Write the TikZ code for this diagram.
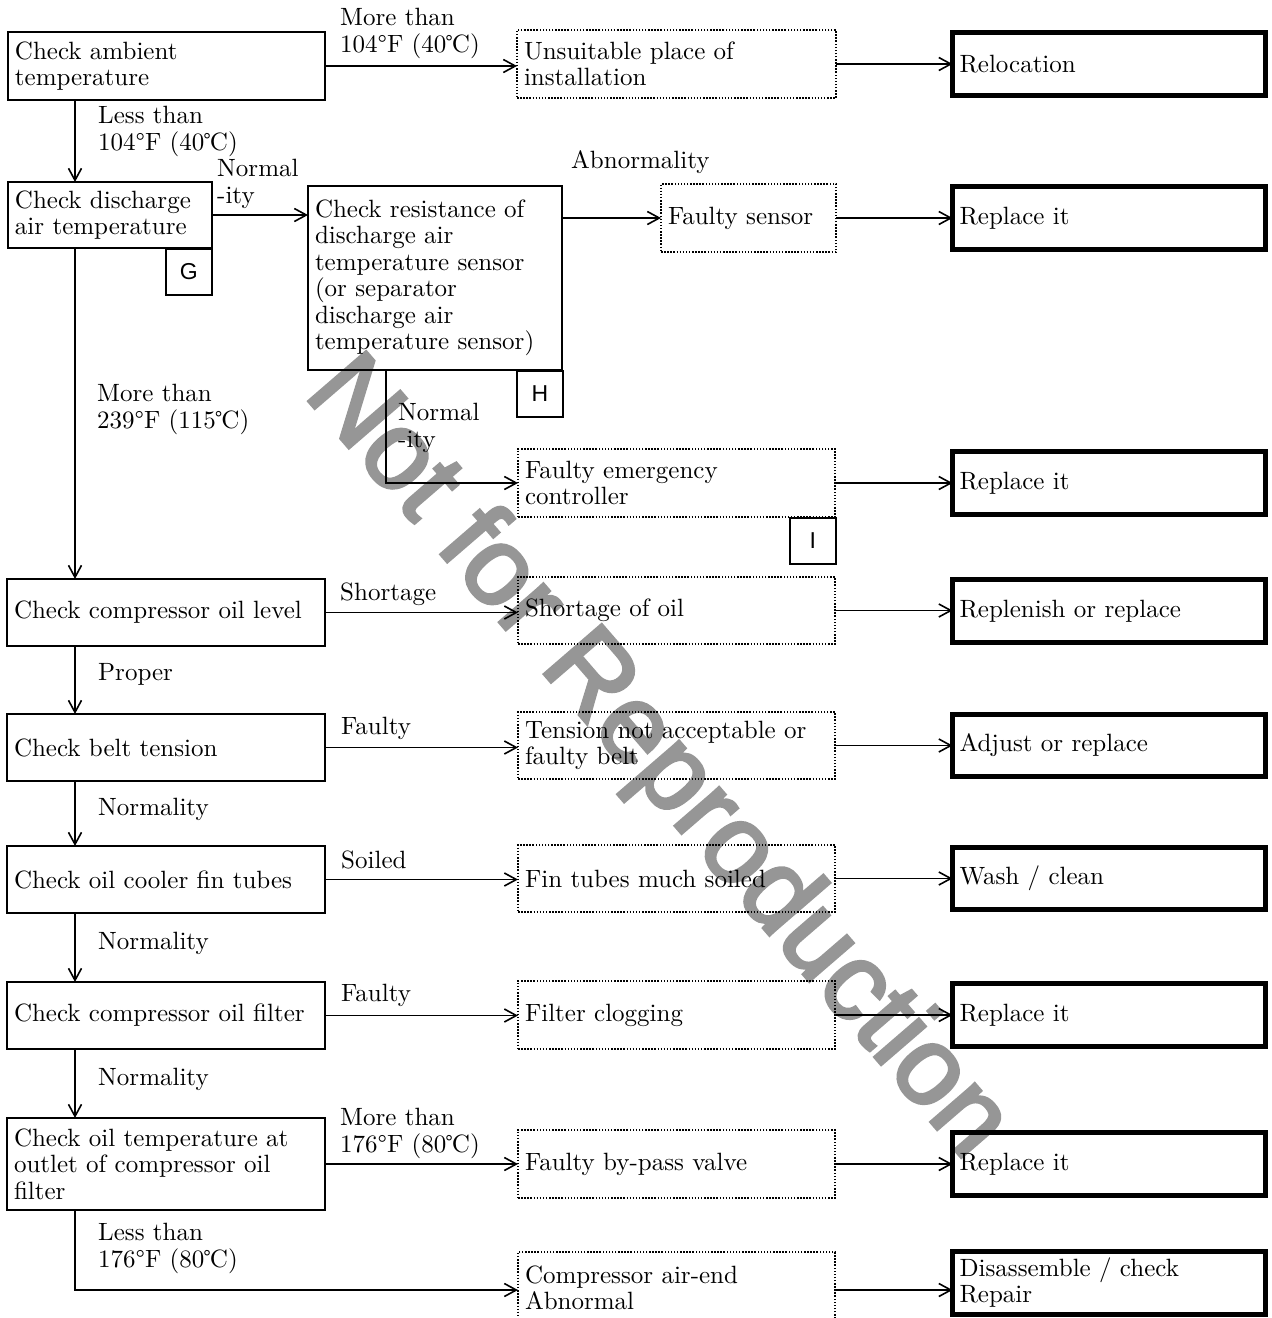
\documentclass[tikz,border=0pt]{standalone}
\usepackage{fontspec}
\setmainfont{lmroman10-regular}[Extension=.otf]
\newfontfamily\sansf{Liberation Sans}
\newfontfamily\wmf{Liberation Sans}[FakeBold=3]
\usetikzlibrary{arrows.meta,calc}
\newcommand\fsz{\fontsize{25}{26.5}\selectfont}
\newcommand\dC{℃}
\definecolor{wmgray}{RGB}{150,150,150}
\newcommand\mybox[7]{%
  \pgfmathsetmacro\bcx{(#3+#5)/2}%
  \pgfmathsetmacro\bcy{(#4+#6)/2}%
  \pgfmathsetmacro\bw{#5-#3}%
  \pgfmathsetmacro\bh{#6-#4}%
  \pgfmathsetmacro\btw{#5-#3-14}%
  \node[#1, minimum width=\bw pt, minimum height=\bh pt, text width=\btw pt] (#2) at (\bcx,\bcy) {#7};}
\begin{document}
\begin{tikzpicture}[x=1pt,y=-1pt,
  base/.style={draw, inner xsep=7pt, inner ysep=1pt, align=left, font=\fsz, anchor=center, outer sep=0pt},
  chk/.style={base, line width=1.6pt},
  dot/.style={base, line width=1.6pt, dash pattern=on 1.5pt off 1.6pt},
  act/.style={base, line width=5pt},
  tag/.style={draw, line width=1.6pt, minimum width=46pt, minimum height=46pt, inner sep=0pt, font=\sansf\fontsize{23}{23}\selectfont, anchor=north west},
  lbl/.style={anchor=north west, inner sep=0pt, align=left, font=\fsz, execute at begin node=\vphantom{(}},
  arr/.style={line width=1.6pt, -{Straight Barb[length=12pt,width=13pt]}},
  wm/.style={text=wmgray, inner sep=0pt, font=\wmf\fontsize{110}{110}\selectfont}
]
\useasboundingbox (0,0) rectangle (1272,1318);
% watermark
\node[wm, rotate=-49.2] (wmark) at (656,760) {Not for Reproduction};

% left column
\mybox{chk}{A1}{8}{32}{325}{100}{Check ambient\\temperature}
\mybox{chk}{A2}{8}{182}{212}{248}{Check discharge\\air temperature}
\node[tag] (G) at (165,248) {G};
\mybox{chk}{A3}{7}{579}{325}{646}{Check compressor oil level}
\mybox{chk}{A4}{7}{714}{325}{781}{Check belt tension}
\mybox{chk}{A5}{7}{846}{325}{913}{Check oil cooler fin tubes}
\mybox{chk}{A6}{7}{982}{325}{1049}{Check compressor oil filter}
\mybox{chk}{A7}{7}{1118}{325}{1210}{Check oil temperature at\\outlet of compressor oil\\filter}

% middle check box
\mybox{chk}{B}{308}{186}{562}{370}{Check resistance of\\discharge air\\temperature sensor\\(or separator\\discharge air\\temperature sensor)}
\node[tag] (H) at (516,370) {H};

% causes (dotted)
\mybox{dot}{D1}{517}{30}{836}{98}{Unsuitable place of\\installation}
\mybox{dot}{D2}{661}{184}{836}{252}{Faulty sensor}
\mybox{dot}{D3}{518}{449}{835}{517}{Faulty emergency\\controller}
\node[tag] (I) at (789,517) {I};
\mybox{dot}{D4}{518}{577}{835}{644}{Shortage of oil}
\mybox{dot}{D5}{518}{712}{835}{779}{Tension not acceptable or\\faulty belt}
\mybox{dot}{D6}{518}{845}{835}{912}{Fin tubes much soiled}
\mybox{dot}{D7}{518}{981}{835}{1049}{Filter clogging}
\mybox{dot}{D8}{518}{1130}{835}{1198}{Faulty by-pass valve}
\mybox{dot}{D9}{518}{1252}{835}{1324}{Compressor air-end\\Abnormal}

% actions (thick)
\mybox{act}{R1}{952.5}{32.5}{1265.5}{95.5}{Relocation}
\mybox{act}{R2}{952.5}{186.5}{1265.5}{249.5}{Replace it}
\mybox{act}{R3}{952.5}{451.5}{1265.5}{514.5}{Replace it}
\mybox{act}{R4}{952.5}{579.5}{1265.5}{642.5}{Replenish or replace}
\mybox{act}{R5}{952.5}{714.5}{1265.5}{776.5}{Adjust or replace}
\mybox{act}{R6}{952.5}{847.5}{1265.5}{909.5}{Wash / clean}
\mybox{act}{R7}{952.5}{983.5}{1265.5}{1046.5}{Replace it}
\mybox{act}{R8}{952.5}{1132.5}{1265.5}{1195.5}{Replace it}
\mybox{act}{R9}{952.5}{1251.5}{1265.5}{1314}{Disassemble / check\\Repair}

% labels
\node[lbl] (L1) at (340,8.25) {More than\\104°F (40\dC)};
\node[lbl] (L2) at (98,106.25) {Less than\\104°F (40\dC)};
\node[lbl] (L3) at (217,159.25) {Normal\\-ity};
\node[lbl] (L4) at (571,149.25) {Abnormality};
\node[lbl] (L5) at (97,384.25) {More than\\239°F (115\dC)};
\node[lbl] (L6) at (398,403.25) {Normal\\-ity};
\node[lbl] (L7) at (340,581.25) {Shortage};
\node[lbl] (L8) at (98,661.25) {Proper};
\node[lbl] (L9) at (341,715.25) {Faulty};
\node[lbl] (L10) at (98,796.25) {Normality};
\node[lbl] (L11) at (341,849.25) {Soiled};
\node[lbl] (L12) at (98,930.25) {Normality};
\node[lbl] (L13) at (341,982.25) {Faulty};
\node[lbl] (L14) at (98,1066.25) {Normality};
\node[lbl] (L15) at (340,1108.25) {More than\\176°F (80\dC)};
\node[lbl] (L16) at (98,1223.25) {Less than\\176°F (80\dC)};

% connectors
\coordinate (vx) at (75,0);
\coordinate (hx) at (386,0);
\draw[arr] (A1.east) -- (A1.east -| D1.west);
\draw[arr] (D1.east) -- (D1.east -| R1.west);
\draw[arr] (A1.south -| vx) -- (A2.north -| vx);
\draw[arr] (A2.east) -- (A2.east -| B.west);
\draw[arr] (B.east |- D2.west) -- (D2.west);
\draw[arr] (D2.east) -- (D2.east -| R2.west);
\draw[arr] (B.south -| hx) |- (D3.west);
\draw[arr] (D3.east) -- (D3.east -| R3.west);
\draw[arr] (A2.south -| vx) -- (A3.north -| vx);
\draw[arr] (A3.east) -- (A3.east -| D4.west);
\draw[arr] (D4.east) -- (D4.east -| R4.west);
\draw[arr] (A3.south -| vx) -- (A4.north -| vx);
\draw[arr] (A4.east) -- (A4.east -| D5.west);
\draw[arr] (D5.east) -- (D5.east -| R5.west);
\draw[arr] (A4.south -| vx) -- (A5.north -| vx);
\draw[arr] (A5.east) -- (A5.east -| D6.west);
\draw[arr] (D6.east) -- (D6.east -| R6.west);
\draw[arr] (A5.south -| vx) -- (A6.north -| vx);
\draw[arr] (A6.east) -- (A6.east -| D7.west);
\draw[arr] (D7.east) -- (D7.east -| R7.west);
\draw[arr] (A6.south -| vx) -- (A7.north -| vx);
\draw[arr] (A7.east) -- (A7.east -| D8.west);
\draw[arr] (D8.east) -- (D8.east -| R8.west);
\draw[arr] (A7.south -| vx) |- ([yshift=-2pt]D9.west);
\draw[arr] ([yshift=-2pt]D9.east) -- ([yshift=-2pt]D9.east -| R9.west);
\end{tikzpicture}
\end{document}
